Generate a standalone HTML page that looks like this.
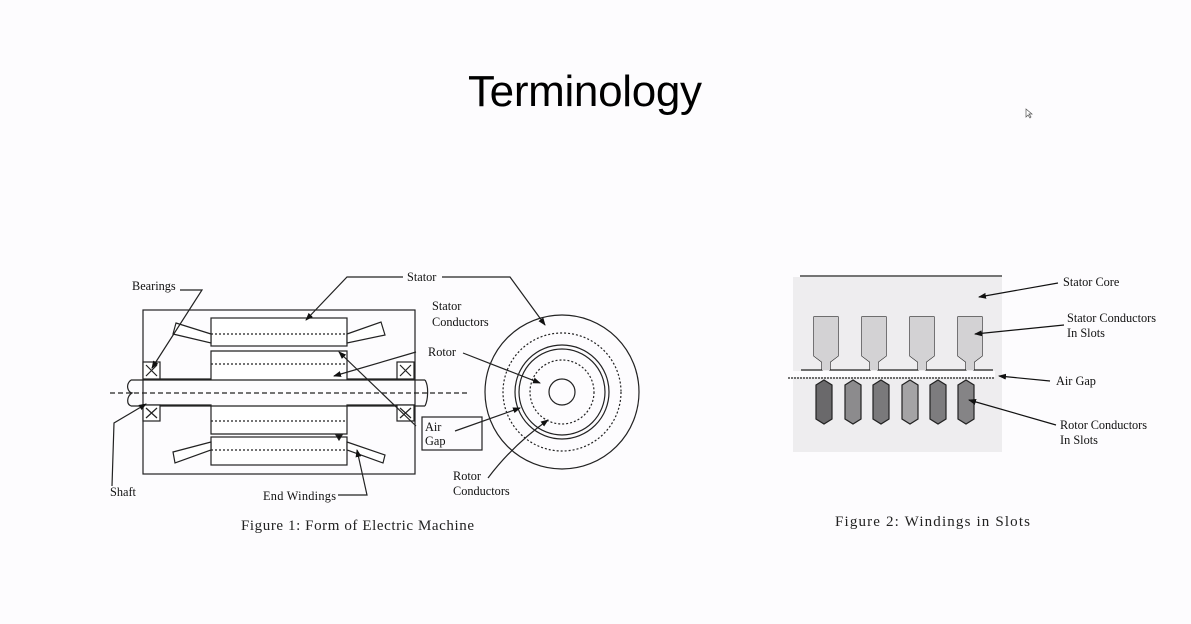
<!DOCTYPE html>
<html><head><meta charset="utf-8"><style>
html,body{margin:0;padding:0;background:#fdfcfe;}
svg{display:block}
.l{font-family:"Liberation Serif",serif;font-size:12.3px;fill:#111}
.c{font-family:"Liberation Serif",serif;font-size:15px;fill:#222}
</style></head><body>
<svg width="1191" height="624" viewBox="0 0 1191 624" xmlns="http://www.w3.org/2000/svg">
<defs><marker id="a" markerWidth="8" markerHeight="8" refX="7" refY="4" orient="auto" markerUnits="userSpaceOnUse"><path d="M0,1 L8,4 L0,7 Z" fill="#111"/></marker></defs>
<rect width="1191" height="624" fill="#fdfcfe"/>
<text x="468" y="106" font-family="Liberation Sans,sans-serif" font-size="44" textLength="234" fill="#000">Terminology</text>
<path d="M1026,109 l0,8 l2,-2 l2,3 l1,-1 l-2,-3 l3,0 z" fill="#fff" stroke="#555" stroke-width="0.7"/>

<g stroke="#222" stroke-width="1.2" fill="none">
<rect x="143" y="310" width="272" height="164"/>
<rect x="211" y="318" width="136" height="28" fill="#fff"/>
<rect x="211" y="437" width="136" height="28" fill="#fff"/>
<line x1="211" y1="334" x2="347" y2="334" stroke-dasharray="2,2"/>
<line x1="211" y1="450" x2="347" y2="450" stroke-dasharray="2,2"/>
<polygon points="176,323 211,334 211,343 173,334" fill="#fff"/>
<polygon points="347,334 381,322 385,335 347,343" fill="#fff"/>
<polygon points="211,442 173,452 175,463 211,450" fill="#fff"/>
<polygon points="347,442 385,455 383,463 347,450" fill="#fff"/>
<path d="M143,379 H211 V351 H347 V379 H415" fill="#fff"/>
<path d="M143,405 H211 V434 H347 V405 H415" fill="#fff"/>
<line x1="211" y1="364" x2="347" y2="364" stroke-dasharray="2,2"/>
<line x1="211" y1="421" x2="347" y2="421" stroke-dasharray="2,2"/>
<path d="M131,380 H425 M131,406 H425"/>
<path d="M131,380 C125,385 128,392 132,393 C127,396 126,404 131,406"/>
<path d="M425,380 C429,386 428,400 425,406"/>
<line x1="110" y1="393" x2="470" y2="393" stroke-dasharray="5,3"/>
<g fill="#fff"><rect x="143" y="362" width="17" height="17"/><rect x="143" y="405" width="17" height="16"/><rect x="397" y="362" width="17" height="17"/><rect x="397" y="405" width="17" height="16"/></g>
<path d="M146,365 l11,11 M157,365 l-11,11 M146,408 l11,10 M157,408 l-11,10 M400,365 l11,11 M411,365 l-11,11 M400,408 l11,10 M411,408 l-11,10"/>
<rect x="422" y="417" width="60" height="33"/>
<circle cx="562" cy="392" r="77"/>
<circle cx="562" cy="392" r="59" stroke-dasharray="2,2"/>
<circle cx="562" cy="392" r="47"/>
<circle cx="562" cy="392" r="43"/>
<circle cx="562" cy="392" r="32" stroke-dasharray="2,2"/>
<circle cx="562" cy="392" r="13"/>
<g marker-end="url(#a)">
<path d="M180,290 H202 L152,368"/>
<path d="M403,277 H347 L306,320"/>
<path d="M442,277 H510 L545,325"/>
<path d="M416,352 L334,376"/>
<path d="M416,426 L339,352"/>
<path d="M455,431 L520,408"/>
<path d="M463,353 L540,383"/>
<path d="M488,478 C500,462 520,440 548,420"/>
<path d="M112,486 L114,423 L146,404"/>
<path d="M338,495 H367 L357,450"/>
</g>
<path d="M336,435 l3,5 l3,-5 z" fill="#111"/>
</g>
<g class="l">
<text x="132" y="290">Bearings</text>
<text x="407" y="281">Stator</text>
<text x="432" y="310">Stator</text><text x="432" y="326">Conductors</text>
<text x="428" y="356">Rotor</text>
<text x="425" y="431">Air</text><text x="425" y="445">Gap</text>
<text x="453" y="480">Rotor</text><text x="453" y="495">Conductors</text>
<text x="110" y="496">Shaft</text>
<text x="263" y="500" textLength="73">End Windings</text>
</g>
<text class="c" x="241" y="530" textLength="233">Figure 1:  Form of Electric Machine</text>

<rect x="793" y="277" width="209" height="175" fill="#eeedef"/>
<line x1="800" y1="276" x2="1002" y2="276" stroke="#222" stroke-width="1.3"/>
<g stroke="#222" stroke-width="1.2" fill="#d3d2d4">
<path d="M801,370 H822 V362 L814,356 V317 H838 V356 L830,362 V370 H870 V362 L862,356 V317 H886 V356 L878,362 V370 H918 V362 L910,356 V317 H934 V356 L926,362 V370 H966 V362 L958,356 V317 H982 V356 L974,362 V370 H993" fill="none"/>
<path d="M822,370 V362 L814,356 V317 H838 V356 L830,362 V370Z M870,370 V362 L862,356 V317 H886 V356 L878,362 V370Z M918,370 V362 L910,356 V317 H934 V356 L926,362 V370Z M966,370 V362 L958,356 V317 H982 V356 L974,362 V370Z" stroke="none"/>
</g>
<rect x="788" y="371" width="207" height="6" fill="#fdfcfe"/>
<line x1="788" y1="378" x2="995" y2="378" stroke="#222" stroke-width="1.3" stroke-dasharray="2,1"/>
<g stroke="#222" stroke-width="1.2">
<path d="M816,385 l8,-5 l8,5 v34 l-8,5 l-8,-5z" fill="#6a696b"/>
<path d="M845,385 l8,-5 l8,5 v34 l-8,5 l-8,-5z" fill="#8c8b8d"/>
<path d="M873,385 l8,-5 l8,5 v34 l-8,5 l-8,-5z" fill="#7a797b"/>
<path d="M902,385 l8,-5 l8,5 v34 l-8,5 l-8,-5z" fill="#a4a3a5"/>
<path d="M930,385 l8,-5 l8,5 v34 l-8,5 l-8,-5z" fill="#7d7c7e"/>
<path d="M958,385 l8,-5 l8,5 v34 l-8,5 l-8,-5z" fill="#858486"/>
</g>
<g stroke="#111" stroke-width="1.2" marker-end="url(#a)">
<path d="M1058,283 L979,297"/>
<path d="M1064,325 L975,334"/>
<path d="M1050,381 L999,376"/>
<path d="M1056,425 L969,400"/>
</g>
<g class="l">
<text x="1063" y="286">Stator Core</text>
<text x="1067" y="322" textLength="89">Stator Conductors</text><text x="1067" y="337">In Slots</text>
<text x="1056" y="385">Air Gap</text>
<text x="1060" y="429" textLength="87">Rotor Conductors</text><text x="1060" y="444">In Slots</text>
</g>
<text class="c" x="835" y="526" textLength="195">Figure 2:  Windings in Slots</text>
</svg>
</body></html>
